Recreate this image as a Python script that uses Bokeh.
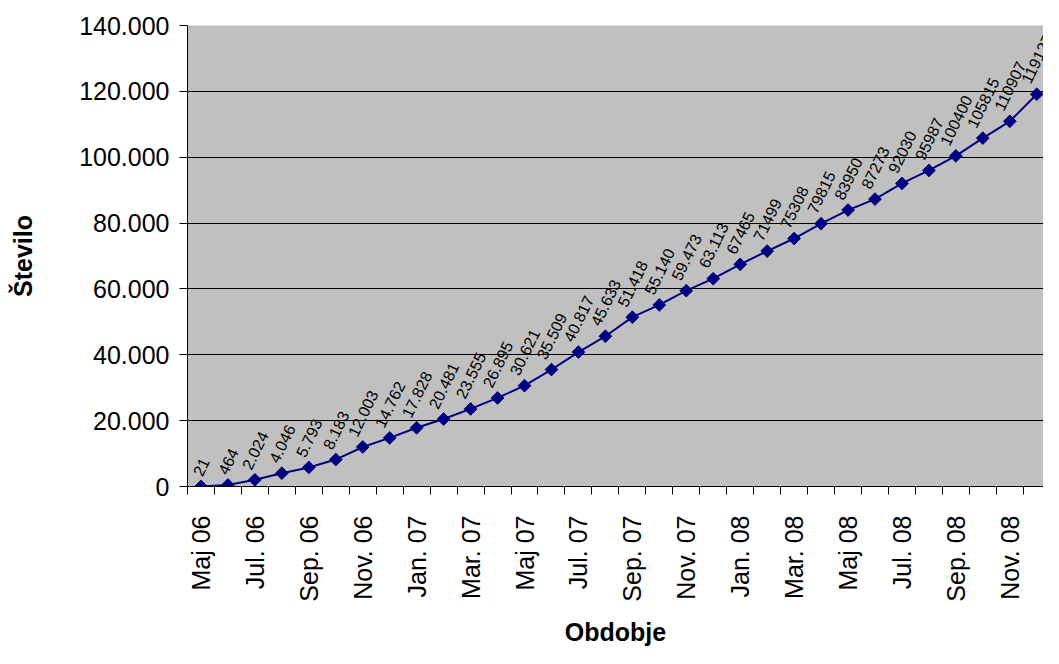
import math
from bokeh.plotting import figure
from bokeh.models import Range1d, FixedTicker, ColumnDataSource
from bokeh.embed import file_html
from bokeh.resources import INLINE
from bokeh.core.properties import value

# ---------------- data ----------------
months = ["Maj 06", "Jun. 06", "Jul. 06", "Avg. 06", "Sep. 06", "Okt. 06", "Nov. 06", "Dec. 06",
          "Jan. 07", "Feb. 07", "Mar. 07", "Apr. 07", "Maj 07", "Jun. 07", "Jul. 07", "Avg. 07",
          "Sep. 07", "Okt. 07", "Nov. 07", "Dec. 07", "Jan. 08", "Feb. 08", "Mar. 08", "Apr. 08",
          "Maj 08", "Jun. 08", "Jul. 08", "Avg. 08", "Sep. 08", "Okt. 08", "Nov. 08", "Dec. 08"]
counts = [21, 464, 2024, 4046, 5793, 8183, 12003, 14762,
          17828, 20481, 23555, 26895, 30621, 35509, 40817, 45633,
          51418, 55140, 59473, 63113, 67465, 71499, 75308, 79815,
          83950, 87273, 92030, 95987, 100400, 105815, 110907, 119127]
point_labels = ["21", "464", "2.024", "4.046", "5.793", "8.183", "12.003", "14.762",
                "17.828", "20.481", "23.555", "26.895", "30.621", "35.509", "40.817", "45.633",
                "51.418", "55.140", "59.473", "63.113", "67465", "71499", "75308", "79815",
                "83950", "87273", "92030", "95987", "100400", "105815", "110907", "119127"]
y_ticks = [0, 20000, 40000, 60000, 80000, 100000, 120000, 140000]
y_tick_labels = ["0", "20.000", "40.000", "60.000", "80.000", "100.000", "120.000", "140.000"]
x_title = "Obdobje"
y_title = "Število"

# ---------------- styling ----------------
FONT = "Liberation Sans"
NAVY = "#000080"
LABEL_FS = 16
LABEL_ANGLE = math.radians(64)
LABEL_GAP = 9
label_step = 2


def text_width(s, fs):
    w = 0.0
    for ch in s:
        w += 0.278 if ch == "." else 0.556
    return w * fs


idx = list(range(len(months)))
yoff = []
for s in point_labels:
    L = text_width(s, LABEL_FS)
    h = L * math.sin(LABEL_ANGLE) + 0.72 * LABEL_FS * math.cos(LABEL_ANGLE)
    yoff.append(-(LABEL_GAP + h / 2))

src = ColumnDataSource(dict(x=idx, y=counts, label=point_labels, yoff=yoff))

p = figure(width=1043, height=648, output_backend="svg", toolbar_location=None,
           x_range=Range1d(-0.5, len(months) - 0.75), y_range=Range1d(0, 140000),
           min_border_left=187, min_border_right=0, min_border_top=25, min_border_bottom=161)
p.border_fill_color = "white"
p.outline_line_color = None
p.background_fill_color = "#C0C0C0"

p.line("x", "y", source=src, line_color=NAVY, line_width=2)
p.scatter("x", "y", source=src, marker="square", angle=math.pi / 4, size=9,
          fill_color=NAVY, line_color=NAVY)
p.text("x", "y", text="label", source=src, angle=LABEL_ANGLE, y_offset="yoff",
       text_align="center", text_baseline="middle", text_font=value(FONT),
       text_font_size=f"{LABEL_FS}px", text_color="black")

# x axis
p.xaxis.ticker = FixedTicker(ticks=idx[::label_step],
                             minor_ticks=[i - 0.5 for i in idx] + [len(idx) - 0.5])
p.xaxis.major_label_overrides = {i: months[i] for i in idx[::label_step]}
p.xaxis.major_label_orientation = math.pi / 2
p.xaxis.major_tick_out = 0
p.xaxis.major_tick_in = 0
p.xaxis.minor_tick_out = 8
p.xaxis.minor_tick_in = 0
p.xaxis.major_label_standoff = 21
p.xaxis.axis_label = x_title
p.xaxis.axis_label_standoff = 13

# y axis
p.yaxis.ticker = FixedTicker(ticks=y_ticks)
p.yaxis.major_label_overrides = {v: t for v, t in zip(y_ticks, y_tick_labels)}
p.yaxis.major_tick_out = 8
p.yaxis.major_tick_in = 0
p.yaxis.minor_tick_out = 0
p.yaxis.minor_tick_in = 0
p.yaxis.major_label_standoff = 10
p.yaxis.axis_label = y_title
p.yaxis.axis_label_standoff = 39

for ax in (p.xaxis, p.yaxis):
    ax.axis_line_color = "black"
    ax.axis_line_width = 1
    ax.major_tick_line_color = "black"
    ax.minor_tick_line_color = "black"
    ax.major_label_text_font = FONT
    ax.major_label_text_font_size = "25px"
    ax.major_label_text_color = "black"
    ax.axis_label_text_font = FONT
    ax.axis_label_text_font_size = "25px"
    ax.axis_label_text_font_style = "bold"
    ax.axis_label_text_color = "black"

p.xgrid.grid_line_color = None
p.ygrid.ticker = FixedTicker(ticks=y_ticks)
p.ygrid.grid_line_color = "black"
p.ygrid.grid_line_width = 1

open("out.html", "w").write(file_html(p, INLINE))
